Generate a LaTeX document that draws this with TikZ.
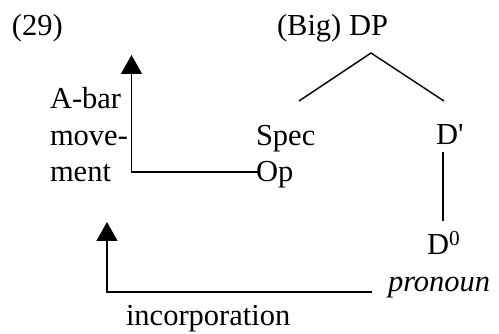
\documentclass[tikz,border=0pt]{standalone}
\usepackage{fontspec}
\setmainfont{Liberation Serif}
\usetikzlibrary{arrows.meta}
\begin{document}
\begin{tikzpicture}[x=1pt,y=1pt,
  lbl/.style={inner sep=0pt,outer sep=0pt,anchor=base west,font=\fontsize{30.5}{36.5}\selectfont},
  mlbl/.style={lbl,align=left},
  ln/.style={line width=1.4pt},
  arr/.style={ln,-{Triangle[length=19pt,width=21pt]}}]
\useasboundingbox (0,0) rectangle (499,-334);
\node[lbl] (n29) at (12,-36) {(29)};
\node[lbl] (dp) at (277,-36) {(Big) DP};
\node[mlbl] (abar) at (50,-182) {A-bar\\move-\\ment};
\node[mlbl] (spec) at (256,-182) {Spec\\Op};
\node[lbl] (dbar) at (436,-145) {D\textquotesingle};
\node[lbl] (d0) at (427,-255) {D\textsuperscript{0}};
\node[lbl] (pron) at (388,-292) {\itshape pronoun};
\node[lbl] (inc) at (126,-326) {incorporation};
\coordinate (apex) at (371,-53);
\coordinate (lleg) at (299,-101);
\coordinate (rleg) at (444,-101);
\coordinate (dtop) at (443,-152);
\coordinate (dbot) at (443,-221);
\coordinate (opstart) at (258,-172);
\coordinate (tip1) at (131.5,-55);
\coordinate (pstart) at (372,-292);
\coordinate (tip2) at (107,-222);
\draw[ln] (lleg) -- (apex) -- (rleg);
\draw[ln] (dtop) -- (dbot);
\draw[arr] (opstart) -| (tip1);
\draw[arr] (pstart) -| (tip2);
\end{tikzpicture}
\end{document}
